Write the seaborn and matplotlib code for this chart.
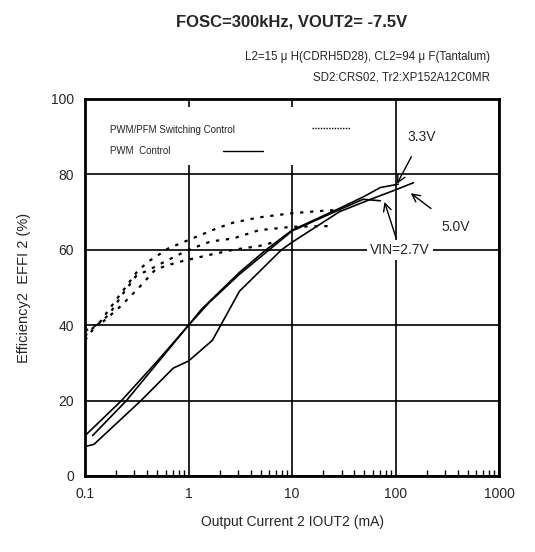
import matplotlib
matplotlib.use("Agg")
import matplotlib.pyplot as plt
import seaborn as sns
import numpy as np

# PWM control (solid)
pwm_33_x = [0.1, 0.225, 0.5, 1, 1.33, 3.1, 5.6, 10, 28.7, 49.3, 71, 106]
pwm_33_y = [10.7, 20, 30.5, 40, 44.2, 54, 60, 65.2, 71, 74.1, 76.5, 77.4]
pwm_27_x = [0.118, 0.251, 1, 1.58, 3.1, 10, 30.7, 48.5, 71]
pwm_27_y = [10.7, 20, 40, 46, 53.5, 65, 71, 73.4, 73.0]
pwm_50_x = [0.1, 0.122, 0.347, 0.71, 1, 1.7, 3.1, 7.9, 10, 28.7, 55, 100, 149]
pwm_50_y = [7.8, 8.4, 20, 28.6, 30.5, 36, 49, 60, 62, 70.1, 73.2, 75.9, 77.8]

# PWM/PFM switching control (dotted)
pfm_a_x = [0.1, 0.106, 0.141, 0.175, 0.25, 0.32, 0.41, 0.64, 1, 1.88, 2.7, 4.8, 10, 21, 30]
pfm_a_y = [37, 38, 41, 44.6, 50.3, 54.3, 56.9, 60.4, 62.6, 65.7, 67.2, 68.6, 69.7, 70.4, 70.6]
pfm_b_x = [0.1, 0.122, 0.17, 0.234, 0.31, 0.45, 0.69, 1, 1.63, 2.7, 4.8, 10, 25]
pfm_b_y = [36, 39.3, 42.8, 48.5, 53, 55.2, 57.8, 60, 62.2, 63, 65.2, 66.1, 66.3]
pfm_c_x = [0.1, 0.15, 0.22, 0.33, 0.48, 0.74, 1, 1.63, 2.7, 4.8, 6.7]
pfm_c_y = [38.5, 41, 45, 49.9, 54.8, 56.5, 57.4, 58.7, 60, 61, 62]

sns.set_style("white")
plt.rcParams['font.family'] = ['Liberation Sans', 'DejaVu Sans']

fig = plt.figure(figsize=(5.35, 5.52), dpi=100)
ax = fig.add_axes([0.159, 0.1377, 0.774, 0.683])

for xs, ys in [(pwm_33_x, pwm_33_y), (pwm_27_x, pwm_27_y), (pwm_50_x, pwm_50_y)]:
    sns.lineplot(x=xs, y=ys, ax=ax, color='black', linewidth=1.2, sort=False, estimator=None)
for xs, ys in [(pfm_a_x, pfm_a_y), (pfm_b_x, pfm_b_y), (pfm_c_x, pfm_c_y)]:
    sns.lineplot(x=xs, y=ys, ax=ax, color='black', linewidth=1.6, sort=False,
                 estimator=None, linestyle=(0, (1.5, 3)))

ax.set_xscale('log')
ax.set_xlim(0.1, 1000)
ax.set_ylim(0, 100)
ax.set_xticks([0.1, 1, 10, 100, 1000])
ax.set_xticklabels(['0.1', '1', '10', '100', '1000'])
ax.set_yticks([0, 20, 40, 60, 80, 100])
ax.grid(True, which='major', color='black', linewidth=1.2)
ax.tick_params(axis='x', which='minor', direction='in', length=4, width=1, bottom=True, colors='black')
ax.tick_params(axis='both', which='major', length=0, labelsize=10, pad=8)
for s in ax.spines.values():
    s.set_color('black')
    s.set_linewidth(2)

ax.set_xlabel("Output Current 2 IOUT2 (mA)", fontsize=10, labelpad=10)
ax.set_ylabel("Efficiency2  EFFI 2 (%)", fontsize=10.5, labelpad=14)

# legend box drawn inside the plot
ax.add_patch(plt.Rectangle((0.036, 0.825), 0.62, 0.155, transform=ax.transAxes,
                           facecolor='white', edgecolor='none', zorder=3))
ax.text(0.06, 0.918, "PWM/PFM Switching Control", transform=ax.transAxes,
        fontsize=7, va='center', zorder=4)
ax.text(0.06, 0.862, "PWM  Control", transform=ax.transAxes,
        fontsize=7, va='center', zorder=4)
ax.plot([0.548, 0.64], [0.923, 0.923], transform=ax.transAxes, color='black',
        linewidth=1, linestyle=(0, (1, 1)), zorder=4)
ax.plot([0.333, 0.43], [0.862, 0.862], transform=ax.transAxes, color='black',
        linewidth=1, zorder=4)

arrow = dict(arrowstyle='->', color='black', linewidth=1, mutation_scale=14)
ax.annotate("3.3V", xy=(103, 77.5), xytext=(180, 90), fontsize=10, ha='center', va='center',
            arrowprops=dict(arrow, shrinkA=8, shrinkB=0), zorder=5)
ax.annotate("5.0V", xy=(140, 75), xytext=(380, 66), fontsize=10, ha='center', va='center',
            arrowprops=dict(arrow, shrinkA=10, shrinkB=0), zorder=5)
ax.annotate("VIN=2.7V", xy=(78, 72.7), xytext=(110, 60), fontsize=10, ha='center', va='center',
            bbox=dict(facecolor='white', edgecolor='none', pad=2),
            arrowprops=dict(arrow, shrinkA=2, shrinkB=0), zorder=5)

fig.text(0.545, 0.96, "FOSC=300kHz, VOUT2= -7.5V", fontsize=12, fontweight='bold',
         ha='center', va='center')
fig.text(0.915, 0.897, "L2=15 μ H(CDRH5D28), CL2=94 μ F(Tantalum)", fontsize=8.3,
         ha='right', va='center')
fig.text(0.915, 0.859, "SD2:CRS02, Tr2:XP152A12C0MR", fontsize=8.3,
         ha='right', va='center')

fig.savefig("out.png", dpi=100)
